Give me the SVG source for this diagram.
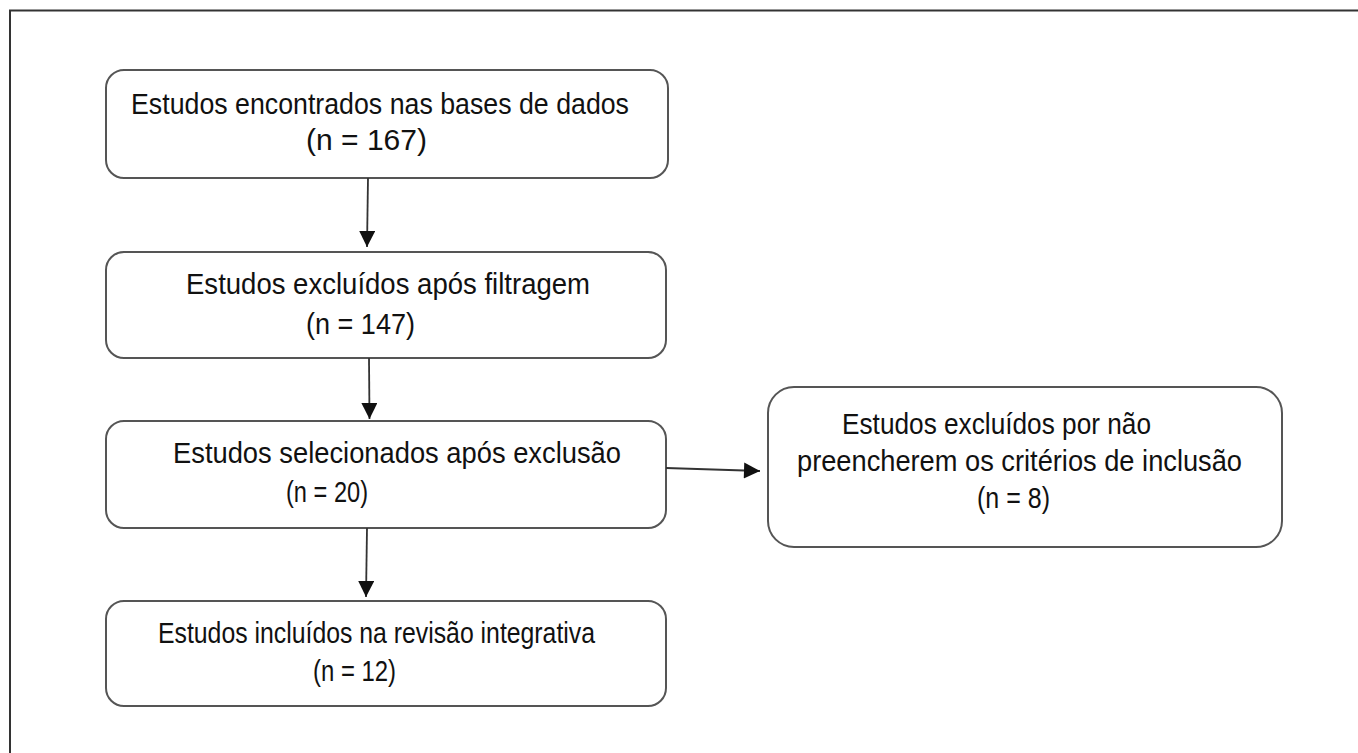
<svg xmlns="http://www.w3.org/2000/svg" width="1358" height="753" viewBox="0 0 1358 753">
<style>
.box{fill:#fff;stroke:#555;stroke-width:2}
.t{font-family:"Liberation Sans",Arial,sans-serif;font-size:29px;fill:#111}
.c{stroke:#333;stroke-width:1.8;fill:none}
</style>
<defs>
<marker id="ah2" viewBox="0 0 10 10" refX="10" refY="5" markerWidth="17" markerHeight="16" orient="auto" markerUnits="userSpaceOnUse">
<path d="M0,0 L10,5 L0,10 Z" fill="#111"/>
</marker>
</defs>
<rect width="1358" height="753" fill="#fff"/>
<path d="M10,753 L10,10.5 L1358,10.5" fill="none" stroke="#333" stroke-width="2"/>
<g id="n1">
<rect class="box" x="106" y="70" width="562" height="108" rx="18"/>
<text class="t" x="131" y="114" textLength="498" lengthAdjust="spacingAndGlyphs">Estudos encontrados nas bases de dados</text>
<text class="t" x="306" y="150" textLength="121" lengthAdjust="spacingAndGlyphs">(n = 167)</text>
</g>
<g id="n2">
<rect class="box" x="106" y="252" width="560" height="106" rx="18"/>
<text class="t" x="186" y="294" textLength="404" lengthAdjust="spacingAndGlyphs">Estudos excluídos após filtragem</text>
<text class="t" x="306" y="334" textLength="109" lengthAdjust="spacingAndGlyphs">(n = 147)</text>
</g>
<g id="n3">
<rect class="box" x="106" y="421" width="560" height="107" rx="18"/>
<text class="t" x="173" y="463" textLength="448" lengthAdjust="spacingAndGlyphs">Estudos selecionados após exclusão</text>
<text class="t" x="286" y="502" textLength="82" lengthAdjust="spacingAndGlyphs">(n = 20)</text>
</g>
<g id="n4">
<rect class="box" x="106" y="601" width="560" height="105" rx="18"/>
<text class="t" x="158" y="643" textLength="437" lengthAdjust="spacingAndGlyphs">Estudos incluídos na revisão integrativa</text>
<text class="t" x="313" y="681" textLength="83" lengthAdjust="spacingAndGlyphs">(n = 12)</text>
</g>
<g id="n5">
<rect class="box" x="768" y="387" width="514" height="160" rx="26"/>
<text class="t" x="842" y="434" textLength="309" lengthAdjust="spacingAndGlyphs">Estudos excluídos por não</text>
<text class="t" x="797" y="471" textLength="445" lengthAdjust="spacingAndGlyphs">preencherem os critérios de inclusão</text>
<text class="t" x="977" y="508" textLength="73" lengthAdjust="spacingAndGlyphs">(n = 8)</text>
</g>
<g id="connectors">
<line class="c" x1="368" y1="178" x2="367" y2="247" marker-end="url(#ah2)"/>
<line class="c" x1="369" y1="358" x2="369.5" y2="419" marker-end="url(#ah2)"/>
<line class="c" x1="367" y1="528" x2="366" y2="597" marker-end="url(#ah2)"/>
<line class="c" x1="666" y1="468" x2="760" y2="471" marker-end="url(#ah2)"/>
</g>
</svg>
